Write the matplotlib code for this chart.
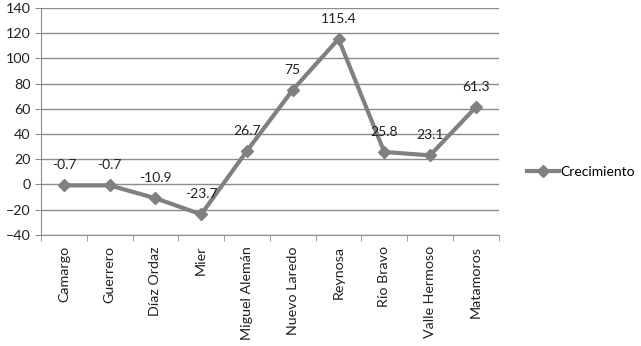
import matplotlib.pyplot as plt

municipios = ["Camargo", "Guerrero", "Díaz Ordaz", "Mier", "Miguel Alemán",
              "Nuevo Laredo", "Reynosa", "Río Bravo", "Valle Hermoso", "Matamoros"]
crecimiento = [-0.7, -0.7, -10.9, -23.7, 26.7, 75, 115.4, 25.8, 23.1, 61.3]
etiquetas = ["-0.7", "-0.7", "-10.9", "-23.7", "26.7", "75", "115.4", "25.8", "23.1", "61.3"]

plt.rcParams['font.family'] = ['Lato', 'DejaVu Sans']
fs = 10

fig = plt.figure(figsize=(6.41, 3.46), dpi=100)
ax = fig.add_axes([0.064, 0.321, 0.714, 0.656])

gris = '#808080'
x = list(range(len(municipios)))
line, = ax.plot(x, crecimiento, color=gris, linewidth=3, marker='D', markersize=6,
                label='Crecimiento', zorder=3)

for xi, yi, txt in zip(x, crecimiento, etiquetas):
    ax.annotate(txt, (xi, yi), xytext=(0, 10), textcoords='offset points',
                ha='center', va='bottom', fontsize=fs, color='#222222')

ax.set_xlim(-0.5, len(municipios) - 0.5)
ax.set_ylim(-40, 140)
ax.set_yticks(range(-40, 141, 20))
ax.yaxis.grid(True, color='#8c8c8c', linewidth=1)
ax.set_axisbelow(True)

ax.set_xticks(x)
ax.set_xticklabels(municipios, rotation=90, fontsize=fs + 0.3, color='#222222')
ax.set_xticks([i + 0.5 for i in range(-1, len(municipios))], minor=True)
ax.tick_params(axis='x', which='major', length=0, pad=8)
ax.tick_params(axis='x', which='minor', length=4, color='#8c8c8c')
ax.tick_params(axis='y', length=4, color='#8c8c8c', labelsize=fs + 0.3, labelcolor='#222222')

for side in ['top', 'right']:
    ax.spines[side].set_visible(False)
for side in ['left', 'bottom']:
    ax.spines[side].set_color('#8c8c8c')

fig.legend(handles=[line], loc='center left', bbox_to_anchor=(0.812, 0.502),
           frameon=False, fontsize=fs, handlelength=2.3, handletextpad=0.1,
           borderpad=0)

fig.savefig('out.png', dpi=100)
